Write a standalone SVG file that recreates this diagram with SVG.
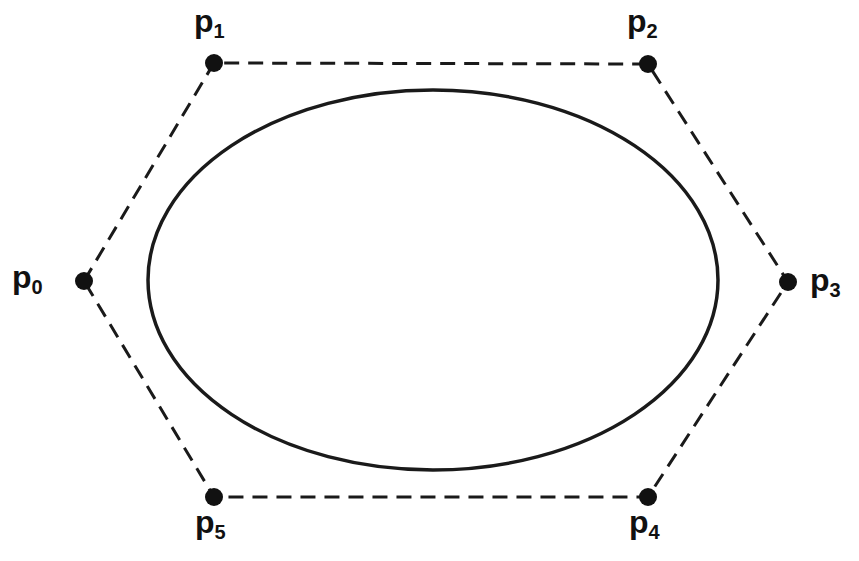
<svg xmlns="http://www.w3.org/2000/svg" width="859" height="561" viewBox="0 0 859 561">
<style>
.hull{fill:none;stroke:#1a1a1a;stroke-width:3;stroke-dasharray:15 9;}
.curve{fill:none;stroke:#1a1a1a;stroke-width:3.5;}
.pt{fill:#111;}
.lbl{font-family:"Liberation Sans",Arial,sans-serif;font-weight:bold;font-size:32px;fill:#111;}
.sub{font-size:20px;}
</style>
<rect width="859" height="561" fill="#fff"/>
<g id="connectors">
<polygon class="hull" points="84,281 214,63 648,64 788,282 648,497 214,497"/>
</g>
<g id="curve"><ellipse class="curve" cx="433" cy="280" rx="285" ry="190"/></g>
<g id="p0"><circle class="pt" cx="84" cy="281" r="9"/><text class="lbl" x="12" y="288">p<tspan class="sub" dy="6">0</tspan></text></g>
<g id="p1"><circle class="pt" cx="214" cy="63" r="9"/><text class="lbl" x="194" y="32">p<tspan class="sub" dy="6">1</tspan></text></g>
<g id="p2"><circle class="pt" cx="648" cy="64" r="9"/><text class="lbl" x="627" y="32">p<tspan class="sub" dy="6">2</tspan></text></g>
<g id="p3"><circle class="pt" cx="788" cy="282" r="9"/><text class="lbl" x="810" y="291">p<tspan class="sub" dy="6">3</tspan></text></g>
<g id="p4"><circle class="pt" cx="648" cy="497" r="9"/><text class="lbl" x="629" y="533">p<tspan class="sub" dy="6">4</tspan></text></g>
<g id="p5"><circle class="pt" cx="214" cy="497" r="9"/><text class="lbl" x="195" y="533">p<tspan class="sub" dy="6">5</tspan></text></g>
</svg>
